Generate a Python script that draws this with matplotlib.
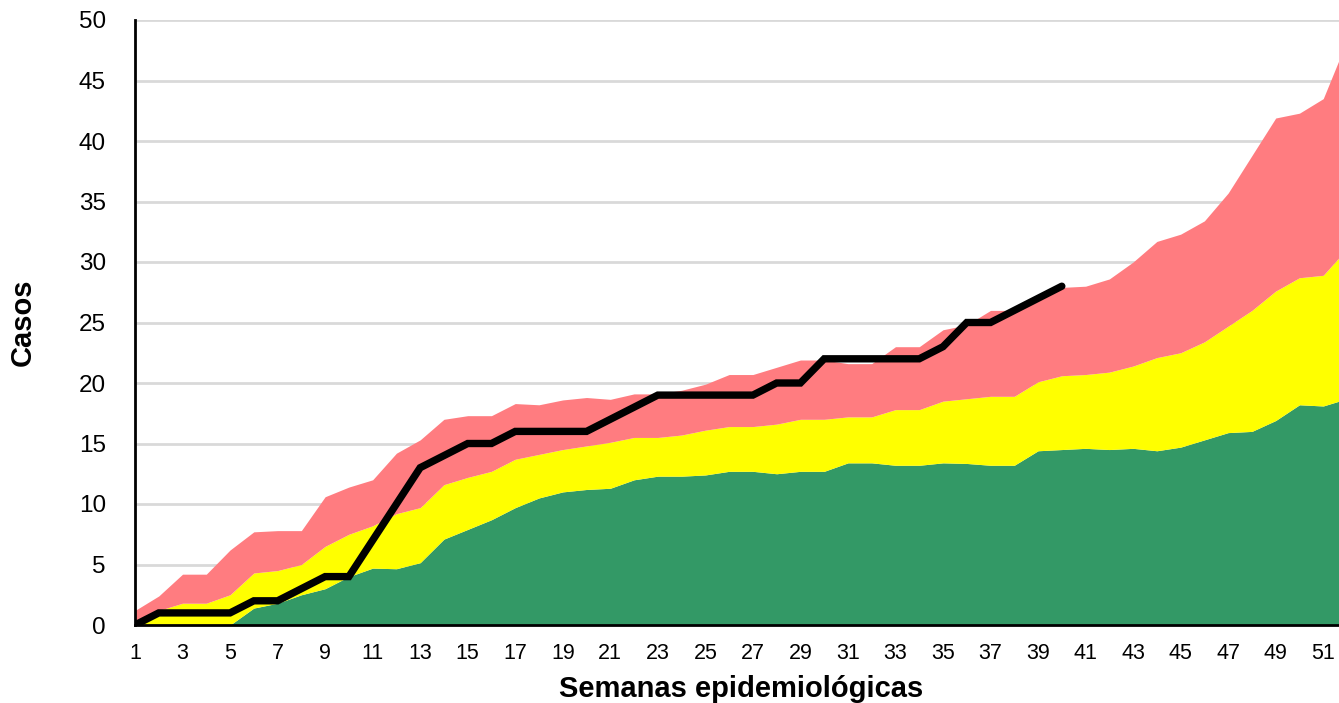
import numpy as np
import matplotlib
matplotlib.use("Agg")
import matplotlib.pyplot as plt
from matplotlib.ticker import MultipleLocator

# Data: cumulative endemic channel bands and current cases per epi week
weeks = np.arange(1, 53)

green = [0, 0, 0, 0, 0, 1.4, 1.8, 2.5, 3.0, 4.0,
         4.7, 4.65, 5.15, 7.1, 7.9, 8.7, 9.7, 10.5, 11.0, 11.2,
         11.3, 12.0, 12.3, 12.3, 12.4, 12.7, 12.7, 12.5, 12.7, 12.7,
         13.4, 13.4, 13.2, 13.2, 13.4, 13.35, 13.2, 13.2, 14.4, 14.5,
         14.6, 14.5, 14.6, 14.4, 14.7, 15.3, 15.9, 16.0, 16.9, 18.2,
         18.1, 18.7]
yellow = [0.2, 1.2, 1.8, 1.8, 2.5, 4.3, 4.5, 5.0, 6.5, 7.5,
          8.2, 9.2, 9.7, 11.6, 12.2, 12.7, 13.7, 14.1, 14.5, 14.8,
          15.1, 15.5, 15.5, 15.7, 16.1, 16.4, 16.4, 16.6, 17.0, 17.0,
          17.2, 17.2, 17.8, 17.8, 18.5, 18.7, 18.9, 18.9, 20.1, 20.6,
          20.7, 20.9, 21.4, 22.1, 22.5, 23.4, 24.7, 26.0, 27.6, 28.7,
          28.9, 31.1]
red = [1.2, 2.4, 4.2, 4.2, 6.2, 7.7, 7.8, 7.8, 10.6, 11.4,
       12.0, 14.2, 15.3, 17.0, 17.3, 17.3, 18.3, 18.2, 18.6, 18.8,
       18.65, 19.1, 19.1, 19.4, 19.9, 20.7, 20.7, 21.3, 21.9, 21.9,
       21.6, 21.6, 23.0, 23.0, 24.4, 24.8, 26.0, 26.0, 26.9, 27.9,
       28.0, 28.6, 30.0, 31.7, 32.3, 33.4, 35.7, 38.8, 41.9, 42.3,
       43.5, 48.3]
casos = [0, 1, 1, 1, 1, 2, 2, 3, 4, 4,
         7, 10, 13, 14, 15, 15, 16, 16, 16, 16,
         17, 18, 19, 19, 19, 19, 19, 20, 20, 22,
         22, 22, 22, 22, 23, 25, 25, 26, 27, 28]

plt.rcParams['font.family'] = ['Liberation Sans', 'DejaVu Sans']

fig = plt.figure(figsize=(13.39, 7.03), dpi=100)
# right edge goes past the figure: the original chart is cropped at week ~51.5
ax = fig.add_axes([135 / 1339, 1 - 625 / 703, 1212 / 1339, 605 / 703])

ax.fill_between(weeks, 0, green, color="#339966", lw=0, zorder=2)
ax.fill_between(weeks, green, yellow, color="#FFFF00", lw=0, zorder=2)
ax.fill_between(weeks, yellow, red, color="#FF7C80", lw=0, zorder=2)
ax.plot(weeks[:len(casos)], casos, color="black", lw=5.3,
        solid_capstyle="round", solid_joinstyle="miter", zorder=4)

ax.set_xlim(1, 52)
ax.set_ylim(0, 50)
ax.yaxis.set_major_locator(MultipleLocator(5))
ax.set_xticks(weeks[::2])
ax.grid(axis="y", color="#D9D9D9", lw=2, zorder=0)
ax.set_axisbelow(True)

for s in ["top", "right"]:
    ax.spines[s].set_visible(False)
ax.spines["left"].set_linewidth(2)
ax.spines["bottom"].set_linewidth(2)
ax.spines["left"].set_zorder(5)
ax.spines["bottom"].set_zorder(5)

ax.tick_params(axis="y", length=0, pad=21, labelsize=17.5)
ax.tick_params(axis="x", length=0, pad=13, labelsize=15.5)

ax.set_ylabel("Casos", fontsize=21, fontweight="bold", labelpad=30)
ax.set_xlabel("Semanas epidemiológicas", fontsize=21, fontweight="bold", labelpad=8)

fig.savefig("out.png", dpi=100)
